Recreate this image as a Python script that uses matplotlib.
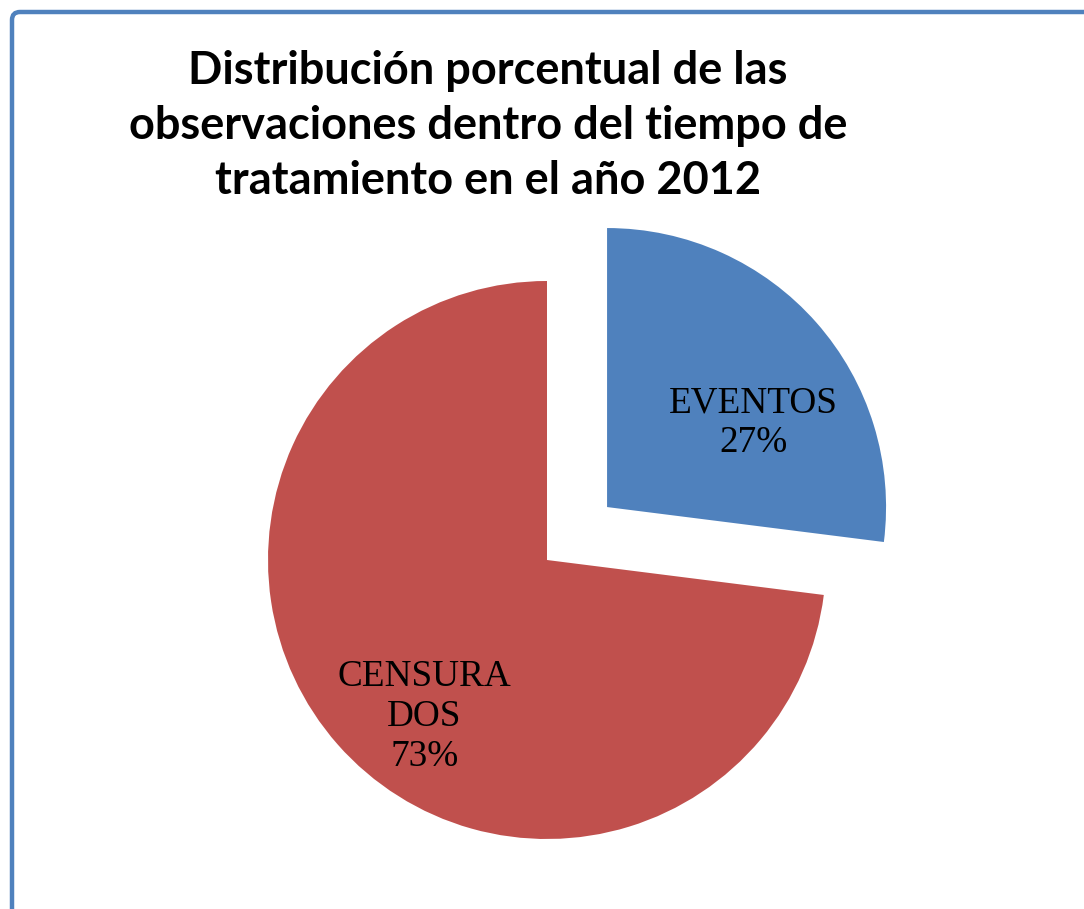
import matplotlib
matplotlib.use("Agg")
import matplotlib.pyplot as plt
from matplotlib.patches import FancyBboxPatch
from matplotlib.transforms import IdentityTransform

# --- data ---
categories = ["EVENTOS", "CENSURA\nDOS"]
percentages = [27, 73]
colors = ["#4F81BD", "#C0504D"]
title = ("Distribución porcentual de las\n"
         "observaciones dentro del tiempo de\n"
         "tratamiento en el año 2012")

W, H, DPI = 1084, 909, 100
fig = plt.figure(figsize=(W / DPI, H / DPI), dpi=DPI)
fig.patch.set_facecolor("white")

# pie centre and radius in pixels
cx, cy, r = 547, H - 560, 279
L = 1.4
half = r * L
ax = fig.add_axes([(cx - half) / W, (cy - half) / H, 2 * half / W, 2 * half / H])

wedges, _ = ax.pie(percentages, colors=colors, startangle=90, counterclock=False,
                   explode=[0.287, 0], radius=1,
                   wedgeprops=dict(linewidth=0))
ax.set_xlim(-L, L)
ax.set_ylim(-L, L)
ax.set_aspect("equal")
ax.axis("off")

# labels inside each slice, offset from the slice's apex
label_pos = [(0.525, 0.30), (-0.44, -0.562)]
for w, cat, pct, (dx, dy) in zip(wedges, categories, percentages, label_pos):
    x0, y0 = w.center
    ax.text(x0 + dx, y0 + dy, f"{cat}\n{pct}%", ha="center", va="center",
            fontsize=26.8, family="Liberation Serif", linespacing=1.2)

# title
fig.text(488 / W, 1 - 126 / H, title, ha="center", va="center",
         fontsize=32.5, fontweight="bold", family="Lato", linespacing=1.38)

# chart border: only its top and left edges fall inside the image
border = FancyBboxPatch((12, -60), W + 60, H - 12 + 60,
                        boxstyle="round,pad=0,rounding_size=8",
                        transform=IdentityTransform(), fill=False,
                        edgecolor="#4F81BD", linewidth=3.2)
fig.patches.append(border)

fig.savefig("out.png", dpi=DPI)
